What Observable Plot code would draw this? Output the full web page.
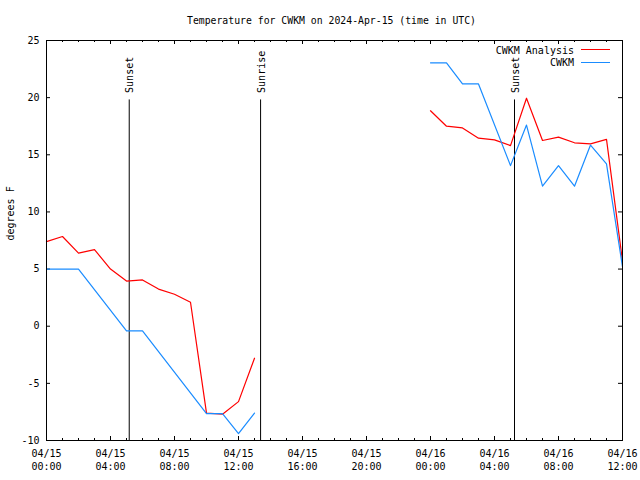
<!DOCTYPE html>
<html>
<head>
<meta charset="utf-8">
<script src="https://cdn.jsdelivr.net/npm/d3@7"></script>
<script src="https://cdn.jsdelivr.net/npm/@observablehq/plot@0.6"></script>
<style>
html, body { margin: 0; padding: 0; background: #fff; }
#wrap { position: relative; width: 640px; height: 480px; font-family: "DejaVu Sans Mono", monospace; color: #000; overflow: hidden; }
#title { position: absolute; left: 0; top: 0; width: 663px; height: 30px; line-height: 41px; text-align: center; font-size: 9.8px; white-space: pre; }
#chart { position: absolute; left: 0; top: 30px; }
.leg { position: absolute; font-size: 10px; line-height: 12px; white-space: pre; }
.legtext { left: 400px; width: 174px; text-align: right; }
.legline { left: 581px; width: 29px; height: 0; border-top: 1px solid; }
</style>
</head>
<body>
<div id="wrap">
  <div id="title"></div>
  <div id="chart"></div>
</div>
<script>
// ---- Data (hours after 2024-04-15 00:00 UTC) ----
const titleText = "Temperature for CWKM on 2024-Apr-15 (time in UTC)";
const yLabel = "degrees F";
const seriesNames = ["CWKM Analysis", "CWKM"];
const seriesColors = ["#ff0000", "#1a8cff"];

const analysisHours = [0,1,2,3,4,5,6,7,8,9,10,11,12,13, 24,25,26,27,28,29,30,31,32,33,34,35,36];
const analysisTemps = [7.4,7.85,6.4,6.7,5.0,3.95,4.05,3.25,2.8,2.1,-7.6,-7.7,-6.6,-2.8,
                       18.85,17.5,17.35,16.45,16.3,15.8,19.95,16.25,16.55,16.05,15.95,16.35,5.7];

const obsHours = [0,1,2,5,6,10,11,12,13, 24,25,26,27,29,30,31,32,33,34,35,36];
const obsTemps = [5.0,5.0,5.0,-0.4,-0.4,-7.65,-7.65,-9.4,-7.6,
                  23.05,23.05,21.2,21.2,14.05,17.6,12.25,14.05,12.25,15.85,14.2,5.2];

const sunEventHours = [5.17, 13.38, 29.25];
const sunEventLabels = ["Sunset", "Sunrise", "Sunset"];

const xTickHours = [0,4,8,12,16,20,24,28,32,36];
const xTickLabels = ["04/15\n00:00","04/15\n04:00","04/15\n08:00","04/15\n12:00","04/15\n16:00",
                     "04/15\n20:00","04/16\n00:00","04/16\n04:00","04/16\n08:00","04/16\n12:00"];
const yTicks = [-10,-5,0,5,10,15,20,25];

// ---- Build ----
const t0 = Date.UTC(2024, 3, 15, 0);
const toDate = h => new Date(t0 + h * 3600e3);
const segOf = h => (h < 18 ? "a" : "b");

const analysis = analysisHours.map((h, i) => ({time: toDate(h), temp: analysisTemps[i], seg: segOf(h)}));
const obs = obsHours.map((h, i) => ({time: toDate(h), temp: obsTemps[i], seg: segOf(h)}));
const sunEvents = sunEventHours.map((h, i) => ({time: toDate(h), label: sunEventLabels[i]}));
const majorTimes = xTickHours.map(toDate);
const labelMap = new Map(majorTimes.map((d, i) => [+d, xTickLabels[i]]));
const xDomain = [toDate(xTickHours[0]), toDate(xTickHours[xTickHours.length - 1])];
const minorTimes = d3.utcHour.range(xDomain[0], new Date(+xDomain[1] + 1));

const W = 640, H = 450, mL = 46, mR = 18, mT = 10, mB = 40;
const pw = W - mL - mR, ph = H - mT - mB;
const sunLineTop = 19.8;

const chart = Plot.plot({
  width: W, height: H,
  marginLeft: mL, marginRight: mR, marginTop: mT, marginBottom: mB,
  style: {fontFamily: "DejaVu Sans Mono, monospace", fontSize: "10px", background: "white", color: "black"},
  x: {type: "utc", domain: xDomain},
  y: {domain: [-10, 25]},
  marks: [
    Plot.tickX(minorTimes, {x: d => d, insetTop: ph - 2, stroke: "black"}),
    Plot.tickX(minorTimes, {x: d => d, insetBottom: ph - 2, stroke: "black"}),
    Plot.tickX(majorTimes, {x: d => d, insetTop: ph - 4, stroke: "black"}),
    Plot.tickX(majorTimes, {x: d => d, insetBottom: ph - 4, stroke: "black"}),
    Plot.tickY(yTicks, {y: d => d, insetRight: pw - 4, stroke: "black"}),
    Plot.tickY(yTicks, {y: d => d, insetLeft: pw - 4, stroke: "black"}),
    Plot.axisX({ticks: majorTimes, tickSize: 0, tickPadding: 7, label: null,
                tickFormat: d => labelMap.get(+d), fontSize: 10, lineHeight: 1.3}),
    Plot.axisY({ticks: yTicks, tickSize: 0, tickPadding: 7, label: null,
                tickFormat: d => String(d), fontSize: 10}),
    Plot.text([yLabel], {frameAnchor: "left", rotate: -90, dx: -36, fontSize: 10}),
    Plot.ruleX(sunEvents, {x: "time", y1: -10, y2: sunLineTop, stroke: "black"}),
    Plot.text(sunEvents, {x: "time", y: sunLineTop, text: "label", rotate: -90, textAnchor: "start",
                          lineAnchor: "middle", dy: -7, dx: 1, fontSize: 10}),
    Plot.line(analysis, {x: "time", y: "temp", z: "seg", stroke: seriesColors[0], strokeWidth: 1.2}),
    Plot.line(obs, {x: "time", y: "temp", z: "seg", stroke: seriesColors[1], strokeWidth: 1.2}),
    Plot.frame({stroke: "black"})
  ]
});
document.getElementById("chart").appendChild(chart);
document.getElementById("title").textContent = titleText;

// legend
const wrap = document.getElementById("wrap");
seriesNames.forEach((name, i) => {
  const t = document.createElement("div");
  t.className = "leg legtext";
  t.style.top = (44.5 + i * 12.5) + "px";
  t.textContent = name;
  wrap.appendChild(t);
  const l = document.createElement("div");
  l.className = "leg legline";
  l.style.top = (49 + i * 13) + "px";
  l.style.borderTopColor = seriesColors[i];
  wrap.appendChild(l);
});
</script>
</body>
</html>
